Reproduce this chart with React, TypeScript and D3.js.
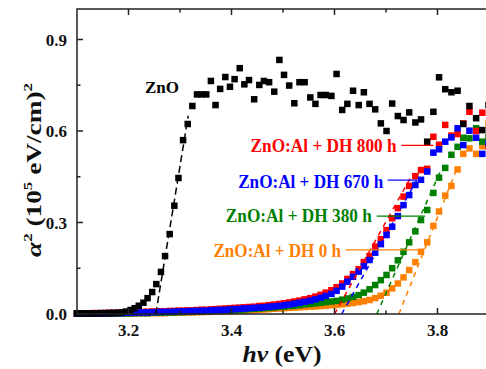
import React from "react"
import { scaleLinear, line } from "d3"

// photon energy grid (eV), one point per nm from 400 nm to 318 nm
const photonEnergy = [
  3.100, 3.107, 3.115, 3.123, 3.131, 3.139, 3.147, 3.155,
  3.163, 3.171, 3.179, 3.187, 3.195, 3.204, 3.212,
  3.220, 3.229, 3.237, 3.246, 3.254, 3.263, 3.271, 3.280, 3.289,
  3.297, 3.306, 3.315, 3.324, 3.333, 3.342, 3.351, 3.360, 3.369,
  3.378, 3.388, 3.397, 3.406, 3.416, 3.425, 3.434, 3.444,
  3.454, 3.463, 3.473, 3.483, 3.493, 3.502, 3.512, 3.522, 3.532,
  3.542, 3.553, 3.563, 3.573, 3.583, 3.594,
  3.604, 3.615, 3.625, 3.636, 3.647, 3.657, 3.668,
  3.679, 3.690, 3.701, 3.712, 3.723, 3.734, 3.745,
  3.757, 3.768, 3.780, 3.792, 3.803, 3.815,
  3.827, 3.839, 3.850, 3.862, 3.875, 3.887, 3.899,
]

const alphaZnO = [
  0.002, 0.002, 0.002, 0.002, 0.002, 0.002, 0.003, 0.003,
  0.003, 0.003, 0.004, 0.005, 0.008, 0.013, 0.019,
  0.027, 0.037, 0.052, 0.072, 0.098, 0.138, 0.19, 0.262, 0.355,
  0.446, 0.57, 0.623, 0.682, 0.72, 0.72, 0.72, 0.764, 0.685,
  0.738, 0.777, 0.745, 0.77, 0.806, 0.753, 0.767, 0.704,
  0.751, 0.764, 0.76, 0.729, 0.833, 0.784, 0.749, 0.691, 0.76,
  0.76, 0.71, 0.689, 0.718, 0.718, 0.715,
  0.787, 0.669, 0.689, 0.732, 0.685, 0.727, 0.689,
  0.671, 0.625, 0.6, 0.69, 0.649, 0.636, 0.661,
  0.628, 0.638, 0.565, 0.663, 0.776, 0.737,
  0.727, 0.732, 0.623, 0.682, 0.642, 0.603, 0.685,
]

const alphaDH800 = [
  0.002, 0.002, 0.002, 0.002, 0.003, 0.003, 0.003, 0.003,
  0.004, 0.004, 0.004, 0.005, 0.005, 0.005, 0.006,
  0.006, 0.007, 0.007, 0.008, 0.008, 0.009, 0.009, 0.01, 0.01,
  0.011, 0.011, 0.012, 0.012, 0.013, 0.014, 0.014, 0.015, 0.016,
  0.017, 0.018, 0.019, 0.02, 0.021, 0.022, 0.023, 0.024,
  0.026, 0.027, 0.029, 0.031, 0.033, 0.035, 0.038, 0.041, 0.044,
  0.048, 0.052, 0.057, 0.063, 0.07, 0.078,
  0.088, 0.1, 0.115, 0.131, 0.147, 0.17, 0.19,
  0.221, 0.245, 0.275, 0.314, 0.347, 0.385, 0.42,
  0.452, 0.472, 0.476, 0.581, 0.555, 0.62,
  0.585, 0.59, 0.625, 0.663, 0.6, 0.66, 0.55,
]

const alphaDH670 = [
  0.001, 0.001, 0.001, 0.002, 0.002, 0.002, 0.002, 0.002,
  0.003, 0.003, 0.003, 0.003, 0.004, 0.004, 0.004,
  0.005, 0.005, 0.005, 0.006, 0.006, 0.007, 0.007, 0.007, 0.008,
  0.008, 0.009, 0.009, 0.01, 0.01, 0.011, 0.011, 0.012, 0.013,
  0.013, 0.014, 0.015, 0.016, 0.017, 0.018, 0.019, 0.02,
  0.021, 0.022, 0.024, 0.025, 0.027, 0.029, 0.031, 0.034, 0.037,
  0.04, 0.044, 0.048, 0.053, 0.059, 0.066,
  0.076, 0.09, 0.106, 0.122, 0.139, 0.157, 0.177,
  0.201, 0.229, 0.259, 0.286, 0.321, 0.357, 0.39,
  0.423, 0.44, 0.467, 0.529, 0.54, 0.565,
  0.579, 0.609, 0.554, 0.601, 0.578, 0.525, 0.56,
]

const alphaDH380 = [
  0.001, 0.001, 0.001, 0.001, 0.001, 0.001, 0.001, 0.001,
  0.001, 0.002, 0.002, 0.002, 0.002, 0.002, 0.003,
  0.003, 0.003, 0.003, 0.004, 0.004, 0.004, 0.005, 0.005, 0.005,
  0.006, 0.006, 0.007, 0.007, 0.008, 0.008, 0.009, 0.009, 0.01,
  0.011, 0.011, 0.012, 0.013, 0.014, 0.015, 0.016, 0.017,
  0.018, 0.019, 0.02, 0.021, 0.023, 0.024, 0.026, 0.027, 0.029,
  0.031, 0.033, 0.035, 0.037, 0.039, 0.041,
  0.043, 0.047, 0.051, 0.056, 0.062, 0.07, 0.081,
  0.095, 0.111, 0.128, 0.15, 0.176, 0.204, 0.235,
  0.271, 0.308, 0.341, 0.397, 0.447, 0.479,
  0.522, 0.548, 0.578, 0.576, 0.609, 0.565, 0.58,
]

const alphaDH0 = [
  0.001, 0.001, 0.001, 0.001, 0.001, 0.001, 0.001, 0.001,
  0.001, 0.001, 0.001, 0.001, 0.002, 0.002, 0.002,
  0.002, 0.002, 0.002, 0.003, 0.003, 0.003, 0.003, 0.004, 0.004,
  0.004, 0.005, 0.005, 0.005, 0.006, 0.006, 0.007, 0.007, 0.008,
  0.008, 0.009, 0.009, 0.01, 0.011, 0.011, 0.012, 0.013,
  0.014, 0.015, 0.016, 0.017, 0.018, 0.019, 0.02, 0.021, 0.022,
  0.023, 0.024, 0.025, 0.026, 0.027, 0.029,
  0.03, 0.032, 0.034, 0.036, 0.039, 0.042, 0.046,
  0.052, 0.06, 0.07, 0.084, 0.1, 0.12, 0.144,
  0.17, 0.204, 0.235, 0.289, 0.336, 0.388,
  0.42, 0.474, 0.525, 0.543, 0.525, 0.55, 0.625,
]

// linear extrapolations of the absorption edge: [E, alpha^2]
const fitZnO: [number, number][] = [[3.253, 0], [3.316, 0.65]]
const fitDH800: [number, number][] = [[3.6, 0], [3.752, 0.46]]
const fitDH670: [number, number][] = [[3.614, 0], [3.76, 0.44]]
const fitDH380: [number, number][] = [[3.682, 0], [3.808, 0.477]]
const fitDH0: [number, number][] = [[3.725, 0], [3.838, 0.478]]

const xTicks = [3.2, 3.4, 3.6, 3.8]
const xMinorTicks = [3.3, 3.5, 3.7]
const yTicks = [0.0, 0.3, 0.6, 0.9]
const yMinorTicks = [0.15, 0.45, 0.75]

const W = 486
const H = 369
const font = "Liberation Serif"

const series = [
  {
    name: "ZnO:Al + DH 0 h",
    color: "#ff8000",
    values: alphaDH0,
    fit: fitDH0,
    label: [3.365, 0.188],
    labelWidth: 127.5,
    leader: [[3.622, 0.21], [3.769, 0.21]],
  },
  {
    name: "ZnO:Al + DH 380 h",
    color: "#008000",
    values: alphaDH380,
    fit: fitDH380,
    label: [3.389, 0.303],
    labelWidth: 146,
    leader: [[3.682, 0.321], [3.776, 0.321]],
  },
  {
    name: "ZnO:Al + DH 800 h",
    color: "#ff0000",
    values: alphaDH800,
    fit: fitDH800,
    label: [3.437, 0.532],
    labelWidth: 146,
    leader: [[3.73, 0.553], [3.792, 0.553]],
  },
  {
    name: "ZnO:Al + DH 670 h",
    color: "#0000ff",
    values: alphaDH670,
    fit: fitDH670,
    label: [3.413, 0.412],
    labelWidth: 145,
    leader: [[3.703, 0.439], [3.76, 0.439]],
  },
]

const App = () => {
  const x = scaleLinear().domain([3.1, 3.9]).range([77, 489])
  const y = scaleLinear().domain([0, 1.0]).range([314, 9])
  const fitLine = line<[number, number]>()
    .x((d) => x(d[0]))
    .y((d) => y(d[1]))

  const sq = 6.5
  const axisColor = "#222"
  const [x0, x1] = x.range()
  const [y0, y1] = y.range()

  const squares = (vals: number[], color: string) =>
    vals.map((v, i) => (
      <rect
        key={i}
        x={x(photonEnergy[i]) - sq / 2}
        y={y(v) - sq / 2}
        width={sq}
        height={sq}
        fill={color}
      />
    ))

  return (
    <svg
      width={W}
      height={H}
      style={{
        position: "absolute",
        left: 0,
        top: 0,
        background: "#fff",
        fontFamily: font,
        fontWeight: 700,
      }}
    >
      {/* data */}
      {series.map((s) => (
        <g key={s.name}>{squares(s.values, s.color)}</g>
      ))}
      <g>{squares(alphaZnO, "#000")}</g>

      {/* linear fits */}
      <path
        d={fitLine(fitZnO) ?? ""}
        stroke="#000"
        strokeWidth={1.5}
        strokeDasharray="7,4"
        fill="none"
      />
      {series.map((s) => (
        <path
          key={s.name}
          d={fitLine(s.fit as [number, number][]) ?? ""}
          stroke={s.color}
          strokeWidth={1.5}
          strokeDasharray="5,5"
          fill="none"
        />
      ))}

      {/* labels */}
      <text x={145} y={92.5} fontSize={17} fill="#000">
        ZnO
      </text>
      {series.map((s) => (
        <g key={s.name}>
          <text
            x={x(s.label[0])}
            y={y(s.label[1])}
            fill={s.color}
            fontSize={18}
            textLength={s.labelWidth}
            lengthAdjust="spacingAndGlyphs"
          >
            {s.name}
          </text>
          <line
            x1={x(s.leader[0][0])}
            x2={x(s.leader[1][0])}
            y1={y(s.leader[0][1])}
            y2={y(s.leader[1][1])}
            stroke={s.color}
            strokeWidth={1.2}
          />
        </g>
      ))}

      {/* frame */}
      <rect
        x={x0}
        y={y1}
        width={x1 - x0}
        height={y0 - y1}
        fill="none"
        stroke={axisColor}
        strokeWidth={1.5}
      />

      {/* x ticks, inward on bottom and top */}
      {xTicks.map((t) => (
        <g key={t}>
          <line x1={x(t)} x2={x(t)} y1={y0} y2={y0 - 6} stroke={axisColor} strokeWidth={1.5} />
          <line x1={x(t)} x2={x(t)} y1={y1} y2={y1 + 6} stroke={axisColor} strokeWidth={1.5} />
          <text x={x(t)} y={336} textAnchor="middle" fontSize={17} fill="#111">
            {t.toFixed(1)}
          </text>
        </g>
      ))}
      {xMinorTicks.map((t) => (
        <g key={t}>
          <line x1={x(t)} x2={x(t)} y1={y0} y2={y0 - 3.5} stroke={axisColor} strokeWidth={1.5} />
          <line x1={x(t)} x2={x(t)} y1={y1} y2={y1 + 3.5} stroke={axisColor} strokeWidth={1.5} />
        </g>
      ))}

      {/* y ticks */}
      {yTicks.map((t) => (
        <g key={t}>
          <line x1={x0} x2={x0 + 6} y1={y(t)} y2={y(t)} stroke={axisColor} strokeWidth={1.5} />
          <text x={67} y={y(t) + 6} textAnchor="end" fontSize={17} fill="#111">
            {t.toFixed(1)}
          </text>
        </g>
      ))}
      {yMinorTicks.map((t) => (
        <line key={t} x1={x0} x2={x0 + 3.5} y1={y(t)} y2={y(t)} stroke={axisColor} strokeWidth={1.5} />
      ))}

      {/* axis titles */}
      <text
        x={282}
        y={362}
        textAnchor="middle"
        fontSize={23}
        fill="#111"
        textLength={79}
        lengthAdjust="spacingAndGlyphs"
      >
        <tspan fontStyle="italic">hν</tspan>
        <tspan> (eV)</tspan>
      </text>
      <text
        transform="translate(41,170) rotate(-90)"
        textAnchor="middle"
        fontSize={21}
        fill="#111"
        textLength={174}
        lengthAdjust="spacingAndGlyphs"
      >
        <tspan fontStyle="italic">α</tspan>
        <tspan fontSize={13} dy={-9}>2</tspan>
        <tspan dy={9}> (10</tspan>
        <tspan fontSize={13} dy={-9}>5</tspan>
        <tspan dy={9}> eV/cm)</tspan>
        <tspan fontSize={13} dy={-9}>2</tspan>
      </text>
    </svg>
  )
}

export default App
